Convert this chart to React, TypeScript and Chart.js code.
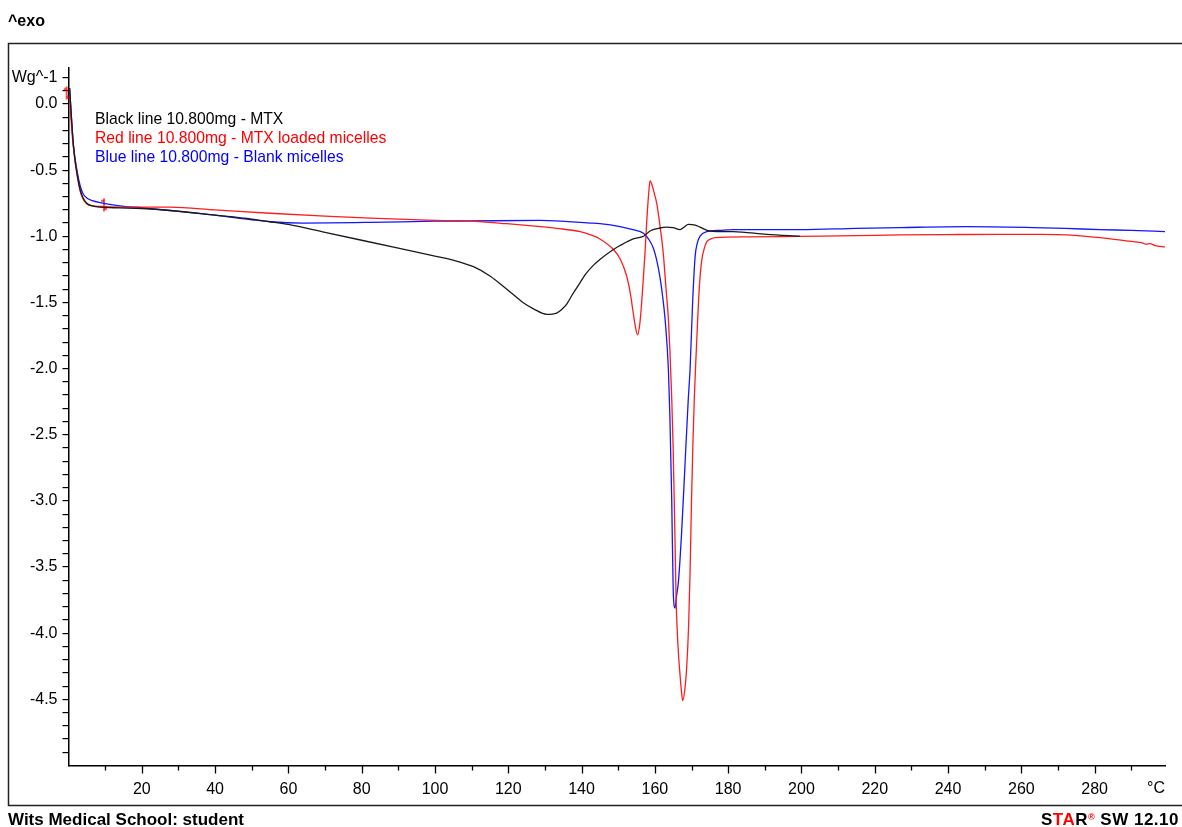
import React, { useEffect, useRef } from 'react';
import { Chart, registerables } from 'chart.js';

Chart.register(...registerables);

// ---- Data (temperature °C, heat flow W/g) ----
const blackT = [0.3, 0.8, 1.3, 1.8, 2.3, 3.2, 4.0, 5.0, 6.5, 8.6, 14, 20, 27.7, 40, 50, 55, 60, 70, 80, 90, 100, 105, 110.5, 115, 119.6, 124, 127, 130.5, 133.2, 134.5, 136, 137.5, 139.6, 141, 143.2, 145, 148.7, 150.5, 154.1, 156.9, 158.7, 161, 163.2, 165, 166.9, 168, 169.1, 171, 172.3, 175, 181.4, 190.5, 199.6];
const blackW = [0.12, -0.10, -0.30, -0.43, -0.52, -0.65, -0.71, -0.75, -0.77, -0.78, -0.785, -0.79, -0.805, -0.84, -0.87, -0.89, -0.91, -0.97, -1.03, -1.09, -1.15, -1.18, -1.23, -1.30, -1.40, -1.50, -1.55, -1.59, -1.58, -1.555, -1.51, -1.44, -1.35, -1.29, -1.22, -1.175, -1.10, -1.07, -1.02, -1.00, -0.96, -0.94, -0.93, -0.935, -0.95, -0.93, -0.91, -0.915, -0.93, -0.96, -0.965, -0.985, -1.0];

const redT = [0.3, 0.7, 1.3, 2.3, 3.2, 4.0, 5.0, 6.5, 8.6, 14, 27.7, 40, 55, 70, 82.3, 100, 109.6, 119.6, 128, 133.2, 139.6, 142.5, 145, 148.7, 150.5, 152.3, 153.3, 154.1, 154.8, 155.3, 155.9, 156.4, 156.9, 157.3, 157.8, 158.3, 158.7, 159.2, 159.8, 160.5, 161.4, 162.3, 163.0, 163.7, 164.1, 164.6, 165.0, 165.5, 165.8, 166.1, 166.5, 167.0, 167.3, 167.6, 168.2, 168.7, 169.2, 169.6, 170.0, 170.4, 170.8, 171.2, 171.6, 171.9, 172.3, 172.8, 173.5, 174.2, 175.3, 176.4, 185, 199.6, 215, 226.9, 240, 254.2, 265, 272.4, 277, 281.5, 286, 290.6, 293, 294, 295.1, 296.5, 299.2];
const redW = [0.05, -0.12, -0.32, -0.53, -0.66, -0.72, -0.755, -0.77, -0.775, -0.78, -0.78, -0.80, -0.826, -0.848, -0.863, -0.88, -0.885, -0.905, -0.925, -0.94, -0.965, -0.99, -1.02, -1.10, -1.17, -1.30, -1.43, -1.58, -1.70, -1.745, -1.66, -1.50, -1.30, -1.13, -0.88, -0.68, -0.58, -0.61, -0.67, -0.75, -0.92, -1.13, -1.38, -1.63, -1.86, -2.22, -2.61, -3.30, -3.75, -3.98, -4.18, -4.36, -4.45, -4.51, -4.42, -4.25, -3.95, -3.55, -3.0, -2.55, -2.2, -1.93, -1.68, -1.5, -1.32, -1.18, -1.09, -1.04, -1.02, -1.01, -1.005, -1.0, -0.995, -0.99, -0.987, -0.985, -0.986, -0.99, -0.998, -1.01, -1.025, -1.04, -1.05, -1.06, -1.055, -1.07, -1.08];

const blueT = [0.3, 0.8, 1.3, 2.3, 3.2, 4.0, 5.0, 6.5, 8.6, 14, 20, 27.7, 40, 50, 55, 64, 82.3, 100, 109.6, 128.7, 142.3, 145, 150.5, 154, 156.9, 158.5, 159.6, 160.5, 161.4, 162.1, 162.8, 163.7, 164.1, 164.6, 165, 165.5, 165.9, 166.4, 167.3, 168.2, 169.1, 169.6, 170.3, 171, 171.6, 172.3, 174.2, 177.8, 181.4, 199.6, 215, 226.9, 245, 263.3, 272, 281.5, 290, 299.2];
const blueW = [0.12, -0.10, -0.30, -0.50, -0.62, -0.68, -0.71, -0.73, -0.745, -0.77, -0.785, -0.805, -0.84, -0.875, -0.89, -0.90, -0.895, -0.886, -0.884, -0.88, -0.90, -0.905, -0.927, -0.95, -0.977, -1.03, -1.09, -1.18, -1.31, -1.45, -1.63, -2.01, -2.36, -2.99, -3.67, -3.81, -3.72, -3.62, -3.24, -2.74, -2.24, -2.01, -1.50, -1.15, -1.05, -1.0, -0.965, -0.955, -0.95, -0.95, -0.94, -0.934, -0.927, -0.934, -0.94, -0.95, -0.955, -0.965];

// evaluation-limit markers on the red curve
const limitT = [-0.5, 9.7];
const limitW = [0.083, -0.763];

// ticks
const xTickValues = [10, 20, 30, 40, 50, 60, 70, 80, 90, 100, 110, 120, 130, 140, 150, 160, 170, 180, 190, 200, 210, 220, 230, 240, 250, 260, 270, 280, 290];
const yTickTenths = [2, 1, 0, -1, -2, -3, -4, -5, -6, -7, -8, -9, -10, -11, -12, -13, -14, -15, -16, -17, -18, -19, -20, -21, -22, -23, -24, -25, -26, -27, -28, -29, -30, -31, -32, -33, -34, -35, -36, -37, -38, -39, -40, -41, -42, -43, -44, -45, -46, -47, -48, -49];
const yUnitLabel = 'Wg^-1';
const xUnitLabel = '°C';

const legendTexts = ['Black line 10.800mg - MTX', 'Red line 10.800mg - MTX loaded micelles', 'Blue line 10.800mg - Blank micelles'];
const legendColors = ['#000000', '#ff0000', '#0000ff'];

const FONT = "'Liberation Sans', Arial, sans-serif";

const pts = (xs: number[], ys: number[]) => xs.map((x, i) => ({ x, y: ys[i] }));

function makeLimitMarker() {
  const c = document.createElement('canvas');
  c.width = 8;
  c.height = 15;
  const g = c.getContext('2d')!;
  g.strokeStyle = '#ff0000';
  g.lineWidth = 1.4;
  g.beginPath();
  g.moveTo(4, 1);
  g.lineTo(4, 14);
  g.moveTo(1, 3.5);
  g.lineTo(4, 3.5);
  g.moveTo(4, 11.5);
  g.lineTo(7, 11.5);
  g.stroke();
  return c;
}

const framePlugin = {
  id: 'frame',
  beforeDraw(chart: any) {
    const ctx = chart.ctx;
    ctx.save();
    ctx.strokeStyle = '#222';
    ctx.lineWidth = 1.5;
    ctx.beginPath();
    ctx.moveTo(1182, 43.5);
    ctx.lineTo(8.5, 43.5);
    ctx.lineTo(8.5, 805.5);
    ctx.lineTo(1182, 805.5);
    ctx.stroke();
    ctx.restore();
  },
  afterDraw(chart: any) {
    const ctx = chart.ctx;
    const xs = chart.scales.x;
    const bottom = chart.chartArea.bottom;
    ctx.save();
    ctx.strokeStyle = '#000';
    ctx.lineWidth = 1.3;
    ctx.beginPath();
    xTickValues.forEach((v) => {
      const px = Math.round(xs.getPixelForValue(v)) + 0.5;
      const len = v % 20 === 0 ? 8 : 5;
      ctx.moveTo(px, bottom);
      ctx.lineTo(px, bottom + len);
    });
    ctx.stroke();
    ctx.restore();
  },
};

export default function App() {
  const ref = useRef<HTMLCanvasElement | null>(null);

  useEffect(() => {
    if (!ref.current) return;
    const marker = makeLimitMarker();
    const chart = new Chart(ref.current, {
      type: 'line',
      data: {
        datasets: [
          {
            label: 'Black line',
            data: pts(blackT, blackW),
            borderColor: '#1a1a1a',
            borderWidth: 1.3,
            pointRadius: 0,
            fill: false,
            cubicInterpolationMode: 'monotone',
          },
          {
            label: 'Red line',
            data: pts(redT, redW),
            borderColor: '#ff1c1c',
            borderWidth: 1.3,
            pointRadius: 0,
            fill: false,
            cubicInterpolationMode: 'monotone',
          },
          {
            label: 'Blue line',
            data: pts(blueT, blueW),
            borderColor: '#1515ff',
            borderWidth: 1.3,
            pointRadius: 0,
            fill: false,
            cubicInterpolationMode: 'monotone',
          },
          {
            label: 'limits',
            data: pts(limitT, limitW),
            showLine: false,
            pointStyle: marker as any,
            pointRadius: 6,
            clip: false as any,
          },
        ],
      },
      options: {
        animation: false,
        responsive: true,
        maintainAspectRatio: false,
        layout: { padding: { left: 0, right: 17, top: 68, bottom: 0 } },
        plugins: { legend: { display: false }, tooltip: { enabled: false } },
        scales: {
          x: {
            type: 'linear',
            min: 0,
            max: 299.2,
            afterBuildTicks: (s: any) => {
              s.ticks = xTickValues.map((v) => ({ value: v }));
            },
            afterFit: (s: any) => {
              s.height = 61.5;
            },
            grid: { drawOnChartArea: false, drawTicks: true, tickLength: 8, color: 'rgba(0,0,0,0)', tickColor: 'rgba(0,0,0,0)' },
            border: { display: true, color: '#000', width: 1.5 },
            ticks: {
              autoSkip: false,
              maxRotation: 0,
              padding: 6,
              color: '#000',
              font: { family: FONT, size: 16 },
              callback: (v: any) => (Math.round(v) % 20 === 0 ? String(Math.round(v)) : ''),
            },
          },
          y: {
            type: 'linear',
            min: -5.0,
            max: 0.272,
            afterBuildTicks: (s: any) => {
              s.ticks = yTickTenths.map((t) => ({ value: t / 10 }));
            },
            afterFit: (s: any) => {
              s.width = 68.5;
            },
            grid: { drawOnChartArea: false, drawTicks: true, tickLength: 6, color: '#000', tickColor: '#000', lineWidth: 1.2 },
            border: { display: true, color: '#000', width: 1.5 },
            ticks: {
              autoSkip: false,
              padding: 5,
              color: '#000',
              font: { family: FONT, size: 16 },
              callback: (v: any) => {
                const t = Math.round(v * 10);
                if (t === 2) return yUnitLabel;
                if (t % 5 === 0) return (t / 10).toFixed(1);
                return '';
              },
            },
          },
        },
      },
      plugins: [framePlugin],
    });
    return () => chart.destroy();
  }, []);

  return (
    <div style={{ position: 'absolute', left: 0, top: 0, width: 1182, height: 827, overflow: 'hidden', background: '#fff' }}>
      <div style={{ position: 'absolute', left: 0, top: 0, width: 1182, height: 827 }}>
        <canvas ref={ref} />
      </div>
      <div style={{ position: 'absolute', left: 8, top: 13, font: `bold 16px/16px ${FONT}`, color: '#000', whiteSpace: 'nowrap' }}>^exo</div>
      {legendTexts.map((t, i) => (
        <div key={i} style={{ position: 'absolute', left: 95, top: 111 + i * 19, font: `15.7px/16px ${FONT}`, color: legendColors[i], whiteSpace: 'nowrap' }}>{t}</div>
      ))}
      <div style={{ position: 'absolute', right: 17, top: 780, font: `16px/16px ${FONT}`, color: '#000', whiteSpace: 'nowrap' }}>{xUnitLabel}</div>
      <div style={{ position: 'absolute', left: 8, top: 811, font: `bold 17px/17px ${FONT}`, color: '#000', whiteSpace: 'nowrap' }}>Wits Medical School: student</div>
      <div style={{ position: 'absolute', right: 3, top: 811, font: `bold 17px/17px ${FONT}`, color: '#000', whiteSpace: 'nowrap', letterSpacing: 0.5 }}>
        S<span style={{ color: '#ff0000' }}>TA</span>R<sup style={{ color: '#ff0000', fontSize: 9, verticalAlign: 'top', lineHeight: '9px', position: 'relative', top: 2 }}>®</sup> SW 12.10
      </div>
    </div>
  );
}
